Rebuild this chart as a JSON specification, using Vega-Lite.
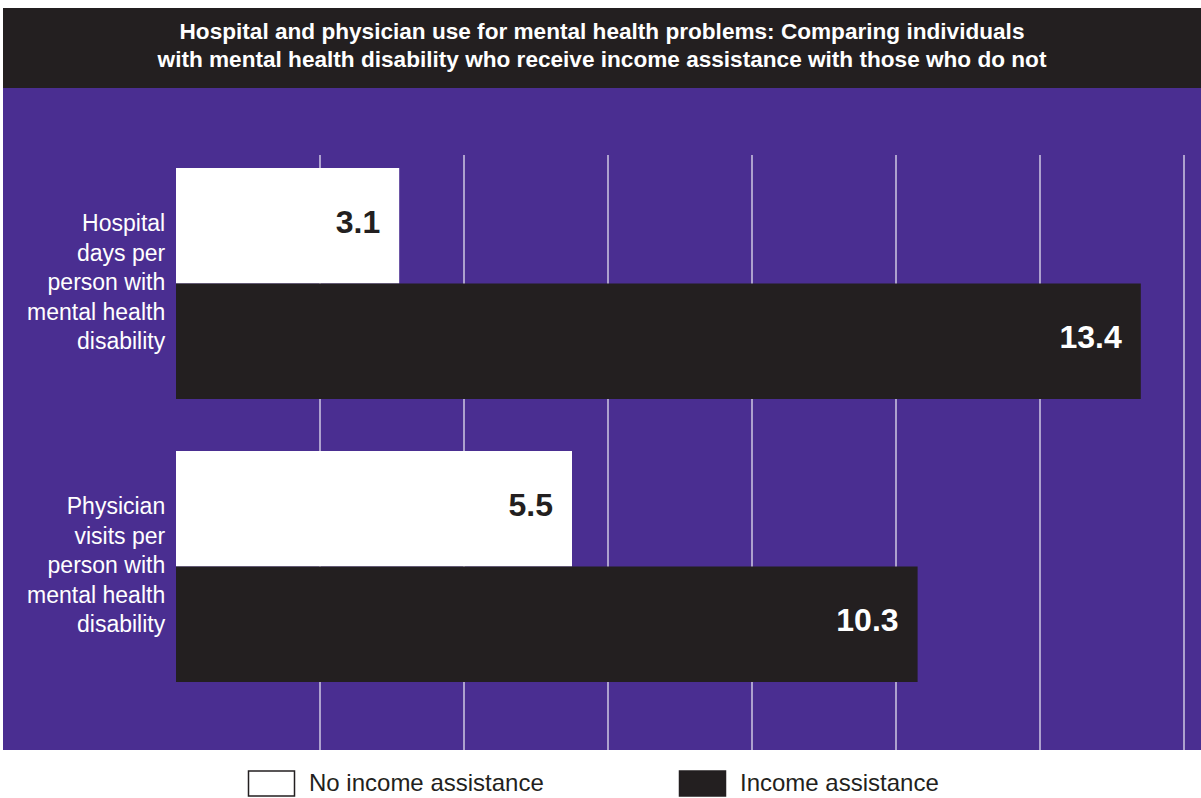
{
  "$schema": "https://vega.github.io/schema/vega-lite/v6.json",
  "background": "white",
  "padding": {"left": 3, "top": 8, "right": 0, "bottom": 0},
  "spacing": 0,
  "config": {
    "view": {"stroke": null},
    "font": "Liberation Sans",
    "legend": {"padding": 0}
  },
  "vconcat": [
    {
      "width": 1198,
      "height": 80,
      "view": {"fill": "#231f20", "stroke": null},
      "data": {"values": [{"title": "Hospital and physician use for mental health problems: Comparing individuals\nwith mental health disability who receive income assistance with those who do not"}]},
      "mark": {"type": "text", "font": "Liberation Sans", "fontWeight": "bold", "fontSize": 22.6, "color": "white", "lineBreak": "\n", "lineHeight": 28, "align": "center", "baseline": "middle", "dy": -16},
      "encoding": {"text": {"field": "title"}}
    },
    {
      "width": 1198,
      "height": 662,
      "view": {"fill": "#4a2e91", "stroke": null},
      "layer": [
        {
          "data": {"values": [{"v": 2}, {"v": 4}, {"v": 6}, {"v": 8}, {"v": 10}, {"v": 12}, {"v": 14}]},
          "mark": {"type": "rule", "color": "#cfc9e3", "strokeWidth": 1.5},
          "encoding": {
            "x": {"field": "v", "type": "quantitative", "scale": {"domain": [-2.4028, 14.2361], "nice": false, "zero": false}, "axis": null},
            "y": {"datum": "Hospital days per person with mental health disability", "type": "nominal", "bandPosition": -0.0563},
            "y2": {"value": "height"}
          }
        },
        {
          "data": {"values": [
            {"cat": "Hospital days per person with mental health disability", "group": "No income assistance", "value": 3.1},
            {"cat": "Hospital days per person with mental health disability", "group": "Income assistance", "value": 13.4},
            {"cat": "Physician visits per person with mental health disability", "group": "No income assistance", "value": 5.5},
            {"cat": "Physician visits per person with mental health disability", "group": "Income assistance", "value": 10.3}
          ]},
          "layer": [
            {
              "mark": {"type": "bar"},
              "encoding": {
                "y": {"field": "cat", "type": "nominal", "axis": null, "scale": {"domain": ["Hospital days per person with mental health disability", "Physician visits per person with mental health disability"], "paddingInner": 0.1837, "paddingOuter": 0.2615, "align": 0.54}},
                "yOffset": {"field": "group", "type": "nominal", "scale": {"domain": ["No income assistance", "Income assistance"], "paddingInner": 0, "paddingOuter": 0}},
                "x": {"field": "value", "type": "quantitative", "scale": {"domain": [-2.4028, 14.2361], "nice": false, "zero": false}, "axis": null},
                "x2": {"datum": 0},
                "color": {
                  "field": "group", "type": "nominal",
                  "scale": {"domain": ["No income assistance", "Income assistance"], "range": ["#ffffff", "#231f20"]},
                  "legend": {
                    "title": null,
                    "orient": "none",
                    "legendX": 255,
                    "legendY": 762,
                    "direction": "horizontal",
                    "symbolType": "M-1.84,-1H1.84V1H-1.84Z",
                    "symbolSize": 625,
                    "symbolStrokeColor": "#231f20",
                    "symbolStrokeWidth": 1.5,
                    "symbolOpacity": 1,
                    "labelFont": "Liberation Sans",
                    "labelFontSize": 24,
                    "labelColor": "#231f20",
                    "labelOffset": 24,
                    "labelLimit": 500,
                    "columnPadding": 132
                  }
                }
              }
            },
            {
              "mark": {"type": "text", "align": "right", "baseline": "middle", "dx": -19, "dy": -3, "font": "Liberation Sans", "fontWeight": "bold", "fontSize": 32},
              "encoding": {
                "y": {"field": "cat", "type": "nominal"},
                "yOffset": {"field": "group", "type": "nominal", "scale": {"domain": ["No income assistance", "Income assistance"], "paddingInner": 0, "paddingOuter": 0}},
                "x": {"field": "value", "type": "quantitative", "scale": {"domain": [-2.4028, 14.2361], "nice": false, "zero": false}},
                "text": {"field": "value", "type": "quantitative", "format": ".1f"},
                "color": {"condition": {"test": "datum.group === 'Income assistance'", "value": "#ffffff"}, "value": "#231f20"}
              }
            }
          ]
        },
        {
          "data": {"values": [
            {"cat": "Hospital days per person with mental health disability", "label": "Hospital\ndays per\nperson with\nmental health\ndisability"},
            {"cat": "Physician visits per person with mental health disability", "label": "Physician\nvisits per\nperson with\nmental health\ndisability"}
          ]},
          "mark": {"type": "text", "align": "right", "baseline": "middle", "lineBreak": "\n", "lineHeight": 29.5, "dy": -59, "font": "Liberation Sans", "fontSize": 23, "color": "#ffffff"},
          "encoding": {
            "y": {"field": "cat", "type": "nominal"},
            "x": {"datum": -0.15, "type": "quantitative", "scale": {"domain": [-2.4028, 14.2361], "nice": false, "zero": false}},
            "text": {"field": "label"}
          }
        }
      ]
    }
  ]
}
